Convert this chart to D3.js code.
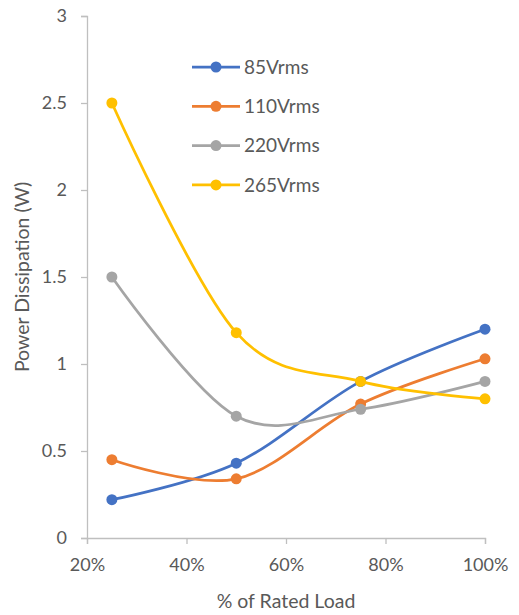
<!DOCTYPE html>
<html>
<head>
<meta charset="utf-8">
<script src="https://cdn.jsdelivr.net/npm/d3@7"></script>
<style>
  body { margin: 0; background: #fff; }
  svg text { font-family: Lato, "Open Sans", sans-serif; fill: #595959; }
</style>
</head>
<body>
<svg id="chart" width="519" height="615"></svg>
<script>
var loads = [0.25, 0.5, 0.75, 1.0];
var seriesNames = ["85Vrms", "110Vrms", "220Vrms", "265Vrms"];
var v85 = [0.22, 0.43, 0.90, 1.20];
var v110 = [0.45, 0.34, 0.77, 1.03];
var v220 = [1.50, 0.70, 0.74, 0.90];
var v265 = [2.50, 1.18, 0.90, 0.80];
var xTicks = [0.2, 0.4, 0.6, 0.8, 1.0];
var yTicks = [0, 0.5, 1, 1.5, 2, 2.5, 3];
var colors = ["#4472C4", "#ED7D31", "#A5A5A5", "#FFC000"];

var series = [v85, v110, v220, v265].map(function(vals, i) {
  return { name: seriesNames[i], color: colors[i],
           points: vals.map(function(v, j) { return [loads[j], v]; }) };
});

var svg = d3.select("#chart");

var x = d3.scaleLinear().domain([0.2, 1.0]).range([87, 485]);
var y = d3.scaleLinear().domain([0, 3]).range([538, 16]);

// axes
var yAxis = svg.append("g")
    .attr("transform", "translate(" + x(0.2) + ",0)")
    .call(d3.axisLeft(y).tickValues(yTicks).tickSize(6).tickPadding(14)
      .tickFormat(function(d) { return d; }));
var xAxis = svg.append("g")
    .attr("transform", "translate(0," + y(0) + ")")
    .call(d3.axisBottom(x).tickValues(xTicks).tickSize(6).tickPadding(14)
      .tickFormat(d3.format(".0%")));

[xAxis, yAxis].forEach(function(a) {
  a.select(".domain").attr("stroke", "#bfbfbf").attr("stroke-width", 1.3);
  a.selectAll(".tick line").attr("stroke", "#bfbfbf").attr("stroke-width", 1.3);
  a.selectAll(".tick text").style("font-size", "18px").attr("fill", "#595959");
});

svg.append("text")
    .attr("transform", "translate(22,277) rotate(-90)")
    .attr("dy", "0.35em")
    .attr("text-anchor", "middle")
    .style("font-size", "19.5px")
    .text("Power Dissipation (W)");

svg.append("text")
    .attr("x", 286).attr("y", 608)
    .attr("text-anchor", "middle")
    .style("font-size", "19.5px")
    .text("% of Rated Load");

var line = d3.line()
    .x(function(d) { return x(d[0]); })
    .y(function(d) { return y(d[1]); })
    .curve(d3.curveCardinal.tension(0));

var g = svg.selectAll(".series").data(series).enter().append("g").attr("class", "series");
g.append("path")
    .attr("d", function(d) { return line(d.points); })
    .attr("fill", "none")
    .attr("stroke", function(d) { return d.color; })
    .attr("stroke-width", 2.75)
    .attr("stroke-linecap", "round");
g.selectAll("circle").data(function(d) { return d.points.map(function(p) { return { p: p, c: d.color }; }); })
  .enter().append("circle")
    .attr("cx", function(d) { return x(d.p[0]); })
    .attr("cy", function(d) { return y(d.p[1]); })
    .attr("r", 5.5)
    .attr("fill", function(d) { return d.c; });

// legend
var legend = svg.selectAll(".legend").data(series).enter().append("g")
    .attr("class", "legend")
    .attr("transform", function(d, i) { return "translate(192," + (67 + i * 39.3) + ")"; });
legend.append("line")
    .attr("x1", 0).attr("x2", 48)
    .attr("stroke", function(d) { return d.color; })
    .attr("stroke-width", 2.75);
legend.append("circle")
    .attr("cx", 24).attr("r", 5.5)
    .attr("fill", function(d) { return d.color; });
legend.append("text")
    .attr("x", 52).attr("dy", "0.35em")
    .style("font-size", "19px")
    .text(function(d) { return d.name; });
</script>
</body>
</html>
